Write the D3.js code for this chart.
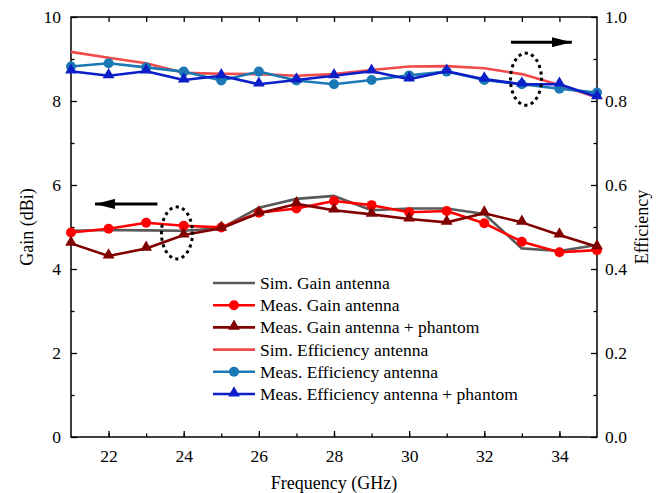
<!DOCTYPE html>
<html>
<head>
<meta charset="utf-8">
<script src="https://cdn.jsdelivr.net/npm/d3@7"></script>
<style>
  body { margin: 0; background: #fff; }
  svg text { font-family: "Liberation Serif", "Times New Roman", serif !important; }
</style>
</head>
<body>
<div id="chart"></div>
<script>
// frequencies (GHz)
var freq = [21, 22, 23, 24, 25, 26, 27, 28, 29, 30, 31, 32, 33, 34, 35];

// gain (dBi), left axis
var simGain       = [4.91, 4.93, 4.92, 4.91, 4.97, 5.46, 5.67, 5.74, 5.40, 5.44, 5.44, 5.31, 4.49, 4.43, 4.57];
var measGain      = [4.87, 4.96, 5.10, 5.03, 4.99, 5.34, 5.44, 5.62, 5.52, 5.35, 5.38, 5.09, 4.65, 4.40, 4.45];
var measGainPhant = [4.61, 4.31, 4.49, 4.81, 4.97, 5.33, 5.55, 5.40, 5.30, 5.19, 5.11, 5.33, 5.11, 4.81, 4.53];

// efficiency, right axis
var simEff        = [0.917, 0.903, 0.890, 0.867, 0.865, 0.864, 0.860, 0.864, 0.874, 0.882, 0.883, 0.878, 0.864, 0.838, 0.808];
var measEff       = [0.882, 0.890, 0.880, 0.870, 0.849, 0.870, 0.849, 0.840, 0.850, 0.861, 0.870, 0.850, 0.840, 0.829, 0.820];
var measEffPhant  = [0.871, 0.860, 0.871, 0.850, 0.860, 0.840, 0.850, 0.860, 0.871, 0.852, 0.871, 0.852, 0.840, 0.840, 0.810];

var xTicks = [22, 24, 26, 28, 30, 32, 34];
var gainTicks = [0, 2, 4, 6, 8, 10];
var effTicks = [0, 0.2, 0.4, 0.6, 0.8, 1.0];

var series = [
  {name: "Sim. Gain antenna", values: simGain, axis: "gain", color: "#595959", marker: null},
  {name: "Meas. Gain antenna", values: measGain, axis: "gain", color: "#ff0000", marker: "circle"},
  {name: "Meas. Gain antenna + phantom", values: measGainPhant, axis: "gain", color: "#800000", marker: "triangle"},
  {name: "Sim. Efficiency antenna", values: simEff, axis: "eff", color: "#f24a4a", marker: null},
  {name: "Meas. Efficiency antenna", values: measEff, axis: "eff", color: "#1a78b4", marker: "circle"},
  {name: "Meas. Efficiency antenna + phantom", values: measEffPhant, axis: "eff", color: "#0c1ec8", marker: "triangle"}
];

var FONT = "'Liberation Serif', 'Times New Roman', serif";

var margin = {top: 17, right: 68, bottom: 56, left: 71},
    width = 665 - margin.left - margin.right,
    height = 493 - margin.top - margin.bottom;

var x = d3.scaleLinear().domain([21, 35]).range([0, width]);
var yGain = d3.scaleLinear().domain([0, 10]).range([height, 0]);
var yEff = d3.scaleLinear().domain([0, 1]).range([height, 0]);

var svg = d3.select("#chart").append("svg")
    .attr("width", 665).attr("height", 493)
    .attr("font-family", FONT)
  .append("g")
    .attr("transform", "translate(" + margin.left + "," + margin.top + ")");

// axes, ticks pointing inwards
function styleAxis(g) {
  g.attr("font-family", FONT);
  g.select(".domain").remove();
  g.selectAll("line").attr("stroke", "#000").attr("stroke-width", 1.3);
  g.selectAll("text").attr("font-size", "17.5px").attr("fill", "#000")
    .attr("font-family", FONT);
}

svg.append("g").attr("transform", "translate(0," + height + ")")
  .call(d3.axisBottom(x).tickValues(d3.range(22, 35, 1)).tickSize(-3.5).tickFormat(""))
  .call(styleAxis);
svg.append("g").attr("transform", "translate(0," + height + ")")
  .call(d3.axisBottom(x).tickValues(xTicks).tickSize(-6).tickPadding(13).tickFormat(d3.format("d")))
  .call(styleAxis);
svg.append("g")
  .call(d3.axisTop(x).tickValues(d3.range(22, 35, 1)).tickSize(-5).tickFormat(""))
  .call(styleAxis);

svg.append("g")
  .call(d3.axisLeft(yGain).tickValues(d3.range(1, 10, 2)).tickSize(-3.5).tickFormat(""))
  .call(styleAxis);
svg.append("g")
  .call(d3.axisLeft(yGain).tickValues(gainTicks).tickSize(-6).tickPadding(10).tickFormat(d3.format("d")))
  .call(styleAxis);

svg.append("g").attr("transform", "translate(" + width + ",0)")
  .call(d3.axisRight(yEff).tickValues(d3.range(0.1, 1, 0.2)).tickSize(-3.5).tickFormat(""))
  .call(styleAxis);
svg.append("g").attr("transform", "translate(" + width + ",0)")
  .call(d3.axisRight(yEff).tickValues(effTicks).tickSize(-6).tickPadding(8).tickFormat(d3.format(".1f")))
  .call(styleAxis);

svg.append("rect")
  .attr("width", width).attr("height", height)
  .attr("fill", "none").attr("stroke", "#000").attr("stroke-width", 1.5);

// series
var triangle = d3.symbol().type(d3.symbolTriangle).size(60);

function drawMarker(g, type, color) {
  if (type === "circle") {
    g.append("circle").attr("r", 5).attr("fill", color);
  } else if (type === "triangle") {
    g.append("path").attr("d", triangle).attr("fill", color)
      .attr("transform", "translate(0,-1)");
  }
}

series.forEach(function(s) {
  var y = s.axis === "gain" ? yGain : yEff;
  var pts = freq.map(function(f, i) { return [x(f), y(s.values[i])]; });
  svg.append("path")
    .attr("d", d3.line()(pts))
    .attr("fill", "none")
    .attr("stroke", s.color)
    .attr("stroke-width", 2.6)
    .attr("stroke-linejoin", "round");
  if (s.marker) {
    pts.forEach(function(p) {
      var g = svg.append("g").attr("transform", "translate(" + p[0] + "," + p[1] + ")");
      drawMarker(g, s.marker, s.color);
    });
  }
});

// arrows and dotted ellipses
svg.append("defs").append("marker")
  .attr("id", "head").attr("viewBox", "0 0 20 10")
  .attr("refX", 20).attr("refY", 5)
  .attr("markerWidth", 20).attr("markerHeight", 10)
  .attr("markerUnits", "userSpaceOnUse")
  .attr("orient", "auto")
  .append("path").attr("d", "M0,0L20,5L0,10Z").attr("fill", "#000");

svg.append("line")
  .attr("x1", x(23.3)).attr("y1", yGain(5.55))
  .attr("x2", x(21.64)).attr("y2", yGain(5.55))
  .attr("stroke", "#000").attr("stroke-width", 3).attr("marker-end", "url(#head)");
svg.append("line")
  .attr("x1", x(32.71)).attr("y1", yEff(0.94))
  .attr("x2", x(34.33)).attr("y2", yEff(0.94))
  .attr("stroke", "#000").attr("stroke-width", 3).attr("marker-end", "url(#head)");

[[23.82, yGain(4.86)], [33.11, yEff(0.852)]].forEach(function(e) {
  svg.append("ellipse")
    .attr("cx", x(e[0])).attr("cy", e[1])
    .attr("rx", 15.5).attr("ry", 26)
    .attr("fill", "none").attr("stroke", "#000")
    .attr("stroke-width", 3).attr("stroke-dasharray", "0.1 6.5")
    .attr("stroke-linecap", "square");
});

// legend
var legend = svg.append("g").attr("transform", "translate(142,266)");
series.forEach(function(s, i) {
  var g = legend.append("g").attr("transform", "translate(0," + (i * 22.2) + ")");
  g.append("line").attr("x1", 0).attr("x2", 42).attr("y1", 0).attr("y2", 0)
    .attr("stroke", s.color).attr("stroke-width", 2.6);
  var m = g.append("g").attr("transform", "translate(21,0)");
  drawMarker(m, s.marker, s.color);
  g.append("text").attr("x", 47).attr("y", 6)
    .attr("font-size", "17.5px").attr("font-family", FONT).text(s.name);
});

// axis titles
svg.append("text")
  .attr("x", width / 2).attr("y", height + 52)
  .attr("text-anchor", "middle").attr("font-size", "18px").attr("font-family", FONT)
  .text("Frequency (GHz)");
svg.append("text")
  .attr("transform", "translate(-38," + (height / 2) + ") rotate(-90)")
  .attr("text-anchor", "middle").attr("font-size", "18px").attr("font-family", FONT)
  .text("Gain (dBi)");
svg.append("text")
  .attr("transform", "translate(" + (width + 51) + "," + (height / 2) + ") rotate(-90)")
  .attr("text-anchor", "middle").attr("font-size", "18px").attr("font-family", FONT)
  .text("Efficiency");
</script>
</body>
</html>
